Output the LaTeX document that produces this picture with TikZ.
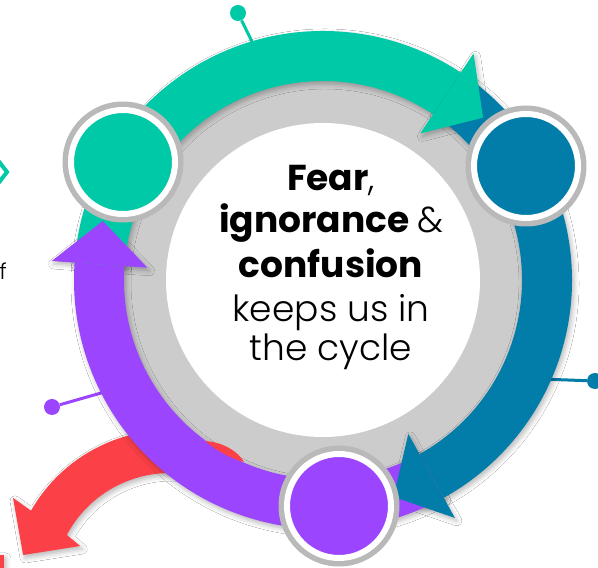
\documentclass[tikz,border=0pt]{standalone}
\usepackage{fontspec}
\setmainfont{Poppins}
\newfontfamily\lightfont{Poppins Light}
\usetikzlibrary{shadows.blur}

\definecolor{cteal}{HTML}{00C9A7}
\definecolor{cblue}{HTML}{027CA8}
\definecolor{cpurple}{HTML}{9B45FE}
\definecolor{cred}{HTML}{FC4047}
\definecolor{ringgray}{HTML}{CCCCCC}
\definecolor{rimgray}{HTML}{B9B9B9}

\tikzset{
  softshadow/.style={blur shadow={shadow xshift=2pt, shadow yshift=-3pt,
      shadow blur radius=5pt, shadow opacity=28}},
  pinline/.style={line width=3pt},
  pindot/.style={circle, inner sep=0pt, minimum size=16pt},
  rim/.style={circle, inner sep=0pt, minimum size=121pt, fill=rimgray},
  disc/.style={circle, inner sep=0pt, minimum size=104pt, draw=white, line width=6pt},
  cycletext/.style={anchor=base, inner sep=0pt, font=\fontsize{36}{43}\selectfont},
}

\begin{document}
\begin{tikzpicture}[x=1pt, y=1pt]
\useasboundingbox (0,0) rectangle (598,568);
\fill[white] (0,0) rectangle (598,568);

% fragments along the left edge
\draw[cteal, line width=4pt, miter limit=10] (-10,418) -- (7,396) -- (-10,374);
\node[anchor=base east, inner sep=0pt, font=\lightfont\fontsize{22}{26}\selectfont] (frag) at (7,288) {f};
\fill[cred, softshadow] (-6,-2) rectangle (4,13);

% red exit arrow
\begin{scope}[shift={(170,-22)}]
  \fill[cred, softshadow] (75:160) arc[start angle=75, end angle=150.3, radius=160]
    -- (149.6:182) -- (166.6:151) -- (153.9:100) -- (151.9:117)
    arc[start angle=151.9, end angle=75, radius=117] -- cycle;
\end{scope}

% pins
\node[pindot, fill=cteal] (tdot) at (238,555) {};
\coordinate (tend) at (259,512);
\draw[pinline, cteal] (tdot) -- (tend);
\node[pindot, fill=cblue] (bdot) at (595,187) {};
\coordinate (bend) at (540,189);
\draw[pinline, cblue] (bdot) -- (bend);
\node[pindot, fill=cpurple] (pdot) at (52,161) {};
\coordinate (pend) at (115,179);
\draw[pinline, cpurple] (pdot) -- (pend);

\begin{scope}[shift={(323,288)}]
  % grey ring and white centre
  \fill[ringgray] (0,0) circle[radius=210];
  \fill[white] (0,0) circle[radius=157];

  % shadows of the arrows
  \path[softshadow] (176:249) arc[start angle=176, end angle=56.4, radius=249]
    -- (56.4:199) arc[start angle=56.4, end angle=176, radius=199] -- cycle;
  \path[softshadow] (56.4:249) arc[start angle=56.4, end angle=-61, radius=249]
    -- (-61:199) arc[start angle=-61, end angle=56.4, radius=199] -- cycle;
  \path[softshadow] (-61:249) arc[start angle=-61, end angle=-184, radius=249]
    -- (-184:199) arc[start angle=-184, end angle=-61, radius=199] -- cycle;
  \path[softshadow] (56.4:272) -- (45.4:228) -- (56.4:176) -- cycle;
  \path[softshadow] (-61:272) -- (-72:228) -- (-61:176) -- cycle;
  \path[softshadow] (-184:272) -- (-195:228) -- (-184:176) -- cycle;

  % arrow bodies
  \fill[cteal] (176:249) arc[start angle=176, end angle=56.4, radius=249]
    -- (56.4:199) arc[start angle=56.4, end angle=176, radius=199] -- cycle;
  \fill[cblue] (56.4:249) arc[start angle=56.4, end angle=-61, radius=249]
    -- (-61:199) arc[start angle=-61, end angle=56.4, radius=199] -- cycle;
  \fill[cpurple] (-61:249) arc[start angle=-61, end angle=-184, radius=249]
    -- (-184:199) arc[start angle=-184, end angle=-61, radius=199] -- cycle;

  % arrow heads
  \fill[cteal] (56.4:272) -- (45.4:228) -- (56.4:176) -- cycle;
  \fill[cblue] (-61:272) -- (-72:228) -- (-61:176) -- cycle;
  \fill[cpurple] (-184:272) -- (-195:228) -- (-184:176) -- cycle;
\end{scope}

% red tail showing through the purple band
\fill[cred] (205,127) .. controls (222,126) and (238,117) .. (244,106)
  .. controls (232,109) and (217,117) .. (205,127) -- cycle;

% stage circles
\node[rim] (c1r) at (123,406) {};
\node[disc, fill=cteal] (c1) at (123,406) {};
\node[rim] (c2r) at (526,402) {};
\node[disc, fill=cblue] (c2) at (526,402) {};
\node[rim] (c3r) at (339,62) {};
\node[disc, fill=cpurple] (c3) at (339,62) {};

% centre text
\node[cycletext] (t1) at (331,377) {\bfseries Fear{\lightfont\mdseries ,}};
\node[cycletext] (t2) at (331,335) {\bfseries ignorance {\lightfont\mdseries \&}};
\node[cycletext] (t3) at (331,290) {\bfseries confusion};
\node[cycletext] (t4) at (331,246) {\lightfont keeps us in};
\node[cycletext] (t5) at (331,207) {\lightfont the cycle};
\end{tikzpicture}
\end{document}
